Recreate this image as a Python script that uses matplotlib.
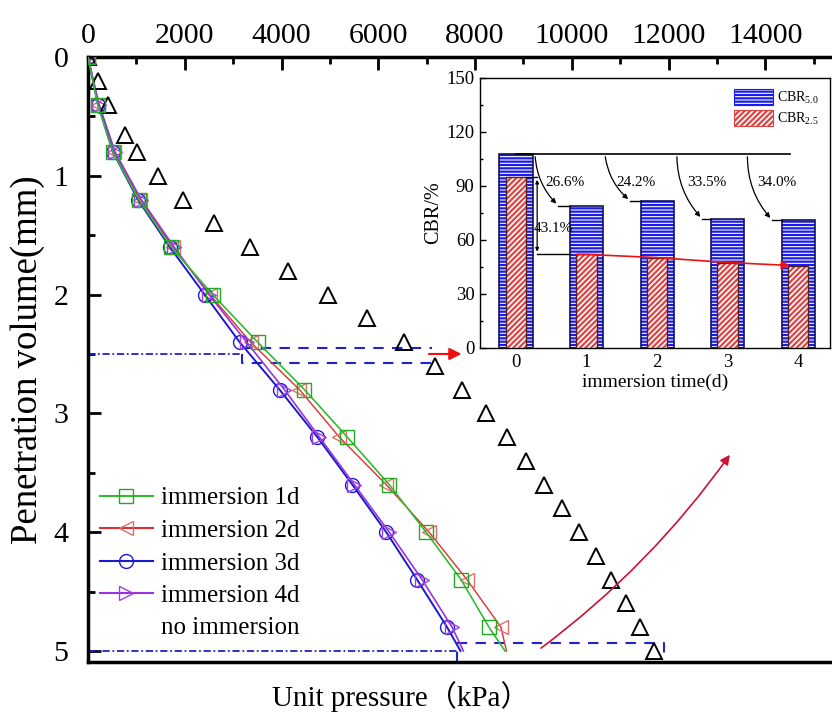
import numpy as np
import matplotlib
matplotlib.use("Agg")
import matplotlib.pyplot as plt
from matplotlib.lines import Line2D
from matplotlib.patches import Patch

plt.rcParams['font.family'] = ['Liberation Serif', 'Noto Sans CJK SC']
plt.rcParams['mathtext.fontset'] = 'custom'
plt.rcParams['mathtext.rm'] = 'Liberation Serif'
plt.rcParams['hatch.linewidth'] = 1.6

# penetration depth (mm) for the soaked samples
depth = [0, 0.4, 0.8, 1.2, 1.6, 2.0, 2.4, 2.8, 3.2, 3.6, 4.0, 4.4, 4.8, 5.0]
# unit pressure (kPa)
p_1d = [0, 200, 515, 1050, 1720, 2578, 3505, 4474, 5361, 6227, 6990, 7712, 8289, 8620]
p_2d = [0, 210, 540, 1080, 1750, 2520, 3360, 4371, 5196, 6165, 7052, 7835, 8537, 8650]
p_3d = [0, 206, 515, 1031, 1691, 2412, 3134, 3959, 4742, 5464, 6165, 6804, 7423, 7700]
p_4d = [0, 230, 560, 1100, 1780, 2500, 3278, 4060, 4784, 5505, 6227, 6907, 7526, 7760]

# no immersion
depth_0 = [0, 0.2, 0.4, 0.66, 0.8, 1.0, 1.2, 1.4, 1.6, 1.8, 2.0, 2.2, 2.4, 2.6,
           2.8, 3.0, 3.2, 3.4, 3.6, 3.8, 4.0, 4.2, 4.4, 4.6, 4.8, 5.0]
p_0 = [0, 206, 412, 763, 1010, 1443, 1959, 2598, 3340, 4144, 4969, 5773, 6535, 7180,
       7733, 8227, 8660, 9052, 9423, 9795, 10145, 10496, 10805, 11114, 11403, 11692]

# inset: CBR vs immersion time
days = [0, 1, 2, 3, 4]
cbr50 = [107.8, 79.1, 81.7, 71.7, 71.1]
cbr25 = [95.0, 52.0, 50.2, 47.5, 45.8]
drop50 = ['26.6%', '24.2%', '33.5%', '34.0%']
drop25 = '43.1%'

W, H = 832, 724
fig = plt.figure(figsize=(W / 100, H / 100), dpi=100)
ax = fig.add_axes([88 / W, 1 - 662 / H, 774 / W, 605 / H])

mk = dict(markersize=10, markerfacecolor='none', markevery=slice(0, 13))
ax.plot(p_1d, depth, '-', color='#33bb33', lw=1.2, marker='s', markeredgecolor='#22aa22', zorder=4, **mk)
ax.plot(p_2d, depth, '-', color='#dd3030', lw=1.0, marker='<', markeredgecolor='#e07070', zorder=3, **mk)
ax.plot(p_3d, depth, '-', color='#1a1acc', lw=1.4, marker='o', markeredgecolor='#1a1add', zorder=3, **mk)
ax.plot(p_4d, depth, '-', color='#9933dd', lw=1.2, marker='>', markeredgecolor='#a040e0', zorder=3, **mk)
ax.plot(p_0, depth_0, linestyle='none', marker='^', markersize=11, markerfacecolor='none',
        markeredgecolor='black', markeredgewidth=1.4, zorder=3)

ax.set_xlim(0, 16000)
ax.set_ylim(5.093, 0)
ax.xaxis.tick_top()
ax.set_xticks(np.arange(0, 16001, 2000))
ax.set_xticks(np.arange(0, 16001, 1000), minor=True)
ax.set_yticks([0, 1, 2, 3, 4, 5])
ax.set_yticks(np.arange(0, 5.1, 0.5), minor=True)
ax.set_xticklabels(['0', '2000', '4000', '6000', '8000', '10000', '12000', '14000', ''])
ax.tick_params(which='major', direction='in', length=9, width=2, labelsize=21.5, pad=6)
ax.tick_params(which='minor', direction='in', length=5, width=2)
ax.tick_params(axis='y', pad=14)
for s in ax.spines.values():
    s.set_linewidth(2.5)

ax.set_ylabel('Penetration volume(mm)', fontsize=26.5, labelpad=6)
fig.text(401 / W, 1 - 697 / H, 'Unit pressure（kPa）', fontsize=21, ha='center', va='center')

# highlight boxes
blue = '#2222cc'
ax.plot([0, 3175], [2.5, 2.5], color=blue, lw=1.3, ls=(0, (4, 1.5, 1, 1.5)))
ax.plot([3175, 3175, 7114], [2.5, 2.58, 2.58], color=blue, lw=1.5, ls=(0, (5, 4)))
ax.plot([3175, 7114], [2.45, 2.45], color=blue, lw=1.5, ls=(0, (5, 4)))
ax.plot([0, 7630], [5.0, 5.0], color=blue, lw=1.3, ls=(0, (4, 1.5, 1, 1.5)))
ax.plot([7630, 7630, 11898, 11898], [5.09, 4.93, 4.93, 5.03], color=blue, lw=1.5, ls=(0, (5, 4)))
ax.annotate('', xy=(7780, 2.5), xytext=(6990, 2.5),
            arrowprops=dict(arrowstyle='-|>', color='#ee1111', lw=1.5, mutation_scale=18),
            annotation_clip=False)
ax.annotate('', xy=(13300, 3.33), xytext=(9320, 4.99),
            arrowprops=dict(arrowstyle='-|>', color='#cc1133', lw=1.2, mutation_scale=14,
                            connectionstyle='arc3,rad=0.08'),
            annotation_clip=False)

handles = [
    Line2D([], [], color='#33bb33', marker='s', markersize=10, markerfacecolor='none', markeredgecolor='#22aa22'),
    Line2D([], [], color='#dd3030', marker='<', markersize=10, markerfacecolor='none', markeredgecolor='#e07070'),
    Line2D([], [], color='#1a1acc', marker='o', markersize=10, markerfacecolor='none', markeredgecolor='#1a1add'),
    Line2D([], [], color='#9933dd', marker='>', markersize=10, markerfacecolor='none', markeredgecolor='#a040e0'),
    Line2D([], [], linestyle='none', marker='none'),
]
labels = ['immersion 1d', 'immersion 2d', 'immersion 3d', 'immersion 4d', 'no immersion']
ax.legend(handles, labels, loc='upper left', bbox_to_anchor=(100 / W, 1 - 487 / H),
          bbox_transform=fig.transFigure, frameon=False, fontsize=18, handlelength=2.1,
          handletextpad=0.35, labelspacing=0.4, borderpad=0, borderaxespad=0)

# inset
ins = fig.add_axes([480 / W, 1 - 348 / H, 350 / W, 270 / H])
ins.bar(days, cbr50, width=0.47, color='white', edgecolor='#1a1aee', hatch='-----', lw=0, zorder=2)
ins.bar(days, cbr50, width=0.47, fill=False, edgecolor='#101060', lw=1.2, zorder=3)
ins.bar(days, cbr25, width=0.29, color='white', edgecolor='#dd4444', hatch='//////', lw=0, zorder=4)
ins.bar(days, cbr25, width=0.29, fill=False, edgecolor='#502020', lw=1.0, zorder=5)

ins.set_xlim(-0.51, 4.45)
ins.set_ylim(0, 150)
ins.set_xticks(days)
ins.set_yticks(np.arange(0, 151, 30))
ins.set_yticks(np.arange(0, 151, 15), minor=True)
ins.tick_params(which='major', direction='in', length=4, width=1, labelsize=13.5, pad=4)
ins.tick_params(which='minor', direction='in', length=2, width=1)
ins.set_xlabel('immersion time(d)', fontsize=14, labelpad=2)
ins.set_ylabel('CBR/%', fontsize=14.5, labelpad=2)
for s in ins.spines.values():
    s.set_linewidth(1.0)

# reduction of CBR5.0
ins.plot([0, 3.89], [cbr50[0], cbr50[0]], color='black', lw=1.2, zorder=6)
starts = [0.27, 1.26, 2.28, 3.28]
tips = [0.6, 1.62, 2.64, 3.63]
for i in range(4):
    d = days[i + 1]
    ins.plot([tips[i], d - 0.235], [cbr50[i + 1], cbr50[i + 1]], color='black', lw=1.0, zorder=6)
    ins.annotate('', xy=(tips[i], cbr50[i + 1]), xytext=(starts[i], cbr50[0]),
                 arrowprops=dict(arrowstyle='-|>', color='black', lw=0.9, mutation_scale=7,
                                 connectionstyle='arc3,rad=0.2'), zorder=6)
    ins.text(d - 0.3, 92, drop50[i], fontsize=11, ha='center', va='center', zorder=7)

# reduction of CBR2.5
ins.plot([0.145, 0.3], [cbr25[0], cbr25[0]], color='black', lw=1.0, zorder=6)
ins.annotate('', xy=(0.3, cbr25[1]), xytext=(0.3, cbr25[0]),
             arrowprops=dict(arrowstyle='<|-|>', color='black', lw=0.9, mutation_scale=5), zorder=6)
ins.plot([0.3, 0.765], [cbr25[1], cbr25[1]], color='black', lw=1.0, zorder=6)
ins.text(0.53, 66.5, drop25, fontsize=11, ha='center', va='center', zorder=7)

ins.plot([0.86] + days[1:4] + [3.75], [cbr25[1]] + cbr25[1:4] + [cbr25[4] + 0.3],
         color='#ee1111', lw=1.2, zorder=8)
ins.annotate('', xy=(3.92, cbr25[4]), xytext=(3.74, cbr25[4] + 0.3),
             arrowprops=dict(arrowstyle='-|>', color='#ee1111', lw=1.2, mutation_scale=12), zorder=8)

leg_handles = [Patch(facecolor='white', edgecolor='#1a1aee', hatch='-----', lw=0.8),
               Patch(facecolor='white', edgecolor='#dd4444', hatch='//////', lw=0.8)]
ins.legend(leg_handles, ['CBR$_{5.0}$', 'CBR$_{2.5}$'], loc='upper right', frameon=False,
           fontsize=10, handlelength=2.8, handleheight=1.4, handletextpad=0.3,
           labelspacing=0.3, borderaxespad=0.4)

fig.savefig('out.png', dpi=100)
